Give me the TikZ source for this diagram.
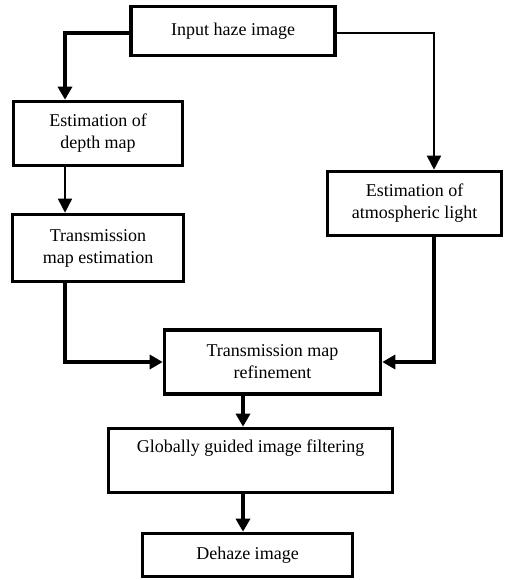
\documentclass[tikz,border=0pt]{standalone}
\usepackage{fontspec}
\setmainfont{Liberation Serif}
\usetikzlibrary{arrows.meta}
\begin{document}
\begin{tikzpicture}[x=1pt,y=1pt,
  box/.style={draw,line width=3.6pt,rectangle,align=center,inner sep=0pt,
    font=\fontsize{18}{22}\selectfont},
  thickarrow/.style={line width=3.6pt,-{Triangle[length=13pt,width=14pt]}},
  thinarrow/.style={line width=1.7pt,-{Triangle[length=14pt,width=14pt]}}]
\useasboundingbox (0,0) rectangle (504,-580);
\node[box,minimum width=204pt,minimum height=49pt] (in) at (233,-31) {Input haze image};
\node[box,minimum width=169pt,minimum height=64pt] (depth) at (98,-133.5) {Estimation of\\depth map};
\node[box,minimum width=171pt,minimum height=67pt] (tme) at (98,-248) {Transmission\\map estimation};
\node[box,minimum width=174pt,minimum height=64pt] (atm) at (414.5,-203.5) {Estimation of\\atmospheric light};
\node[box,minimum width=216pt,minimum height=64pt] (ref) at (272.5,-362) {Transmission map\\refinement};
\node[box,minimum width=284pt,minimum height=64pt] (glob) at (250.5,-460.5) {Globally guided image filtering\\\strut};
\node[box,minimum width=210pt,minimum height=43pt] (dh) at (247.5,-555) {Dehaze image};
\draw[thickarrow] ([yshift=-2pt]in.west) -| ([xshift=-33pt]depth.north);
\draw[thinarrow] ([yshift=-2pt]in.east) -| ([xshift=19.5pt]atm.north);
\draw[thinarrow] ([xshift=-33pt]depth.south) -- ([xshift=-33pt]tme.north);
\draw[thickarrow] ([xshift=-33pt]tme.south) |- (ref.west);
\draw[thickarrow] ([xshift=19.5pt]atm.south) |- (ref.east);
\draw[thickarrow] ([xshift=-29.5pt]ref.south) -- ([xshift=-7.5pt]glob.north);
\draw[thickarrow] ([xshift=-7.5pt]glob.south) -- ([xshift=-4.5pt]dh.north);
\end{tikzpicture}
\end{document}
